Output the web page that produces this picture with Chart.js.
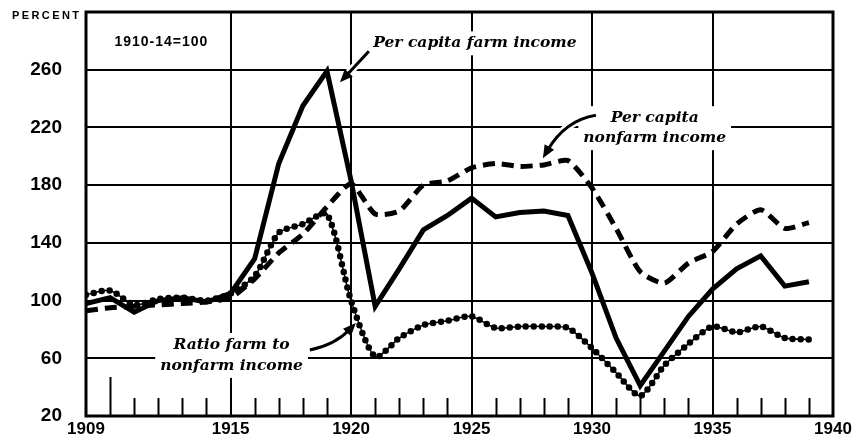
<!DOCTYPE html>
<html>
<head>
<meta charset="utf-8">
<script src="https://cdn.jsdelivr.net/npm/chart.js@4/dist/chart.umd.min.js"></script>
<style>
  body { margin: 0; background: #fff; }
  canvas { display: block; }
</style>
</head>
<body>
<canvas id="income-chart" width="857" height="436"></canvas>
<script>
// Index numbers, 1910-14 = 100
var years = [1909, 1910, 1911, 1912, 1913, 1914, 1915, 1916, 1917, 1918, 1919,
             1920, 1921, 1922, 1923, 1924, 1925, 1926, 1927, 1928, 1929,
             1930, 1931, 1932, 1933, 1934, 1935, 1936, 1937, 1938, 1939];
var farmIncome = [98, 102, 92, 100, 102, 99, 105, 129, 195, 235, 259,
                  183, 96, 122, 149, 159, 171, 158, 161, 162, 159,
                  119, 74, 41, 65, 89, 108, 122, 131, 110, 113];
var nonfarmIncome = [93, 95, 96, 97, 98, 99, 102, 115, 133, 146, 165,
                     181, 160, 162, 180, 183, 192, 195, 193, 194, 197,
                     178, 150, 120, 112, 126, 134, 153, 163, 150, 154];
var ratioFarmNonfarm = [104, 107, 97, 101, 102, 100, 105, 117, 147, 153, 160,
                        100, 61, 74, 83, 86, 89, 81, 82, 82, 81,
                        67, 50, 34, 55, 70, 82, 78, 82, 74, 73];

var tickYears = [1909, 1910, 1911, 1912, 1913, 1914, 1915, 1916, 1917, 1918, 1919,
                 1920, 1921, 1922, 1923, 1924, 1925, 1926, 1927, 1928, 1929,
                 1930, 1931, 1932, 1933, 1934, 1935, 1936, 1937, 1938, 1939, 1940];
var yearLabels = [1909, 1915, 1920, 1925, 1930, 1935, 1940];
var gridYears = [1915, 1920, 1925, 1930, 1935];
var yTicks = [20, 60, 100, 140, 180, 220, 260, 300];

function points(values) {
  return years.map(function(yr, i) { return {x: yr, y: values[i]}; });
}

var labelFont = 'italic bold 15.5px "DejaVu Serif"';

// callouts, placed in data units
var notes = [
  {lines: ['1910-14=100'], at: [1912.13, 279], font: 'bold 14px "Liberation Sans"', spacing: '1px', lh: 0},
  {lines: ['Per capita farm income'], at: [1925.14, 278.3], font: labelFont, lh: 0},
  {lines: ['Per capita', 'nonfarm income'], at: [1932.6, 219.5], font: labelFont, lh: 20},
  {lines: ['Ratio farm to', 'nonfarm income'], at: [1915.04, 62], font: labelFont, lh: 21}
];
var arrows = [
  {from: [1920.74, 272.8], to: [1919.54, 251.3]},
  {from: [1930.16, 228.5], ctrl: [1928.88, 225.0], to: [1927.96, 198.7]},
  {from: [1918.29, 65.7], ctrl: [1919.33, 69.2], to: [1920.2, 84.4]}
];

function drawArrow(ctx, a, xs, ys) {
  var p0 = [xs.getPixelForValue(a.from[0]), ys.getPixelForValue(a.from[1])];
  var p1 = [xs.getPixelForValue(a.to[0]), ys.getPixelForValue(a.to[1])];
  var c = a.ctrl ? [xs.getPixelForValue(a.ctrl[0]), ys.getPixelForValue(a.ctrl[1])] : p0;
  var ang = Math.atan2(p1[1] - c[1], p1[0] - c[0]);
  var back = [p1[0] - Math.cos(ang) * 9, p1[1] - Math.sin(ang) * 9];
  [['#fff', 8], ['#000', 3]].forEach(function(s) {
    ctx.strokeStyle = s[0];
    ctx.lineWidth = s[1];
    ctx.beginPath();
    ctx.moveTo(p0[0], p0[1]);
    if (a.ctrl) ctx.quadraticCurveTo(c[0], c[1], back[0], back[1]);
    else ctx.lineTo(back[0], back[1]);
    ctx.stroke();
  });
  ctx.fillStyle = '#000';
  ctx.beginPath();
  ctx.moveTo(p1[0], p1[1]);
  ctx.lineTo(p1[0] - Math.cos(ang - 0.4) * 14, p1[1] - Math.sin(ang - 0.4) * 14);
  ctx.lineTo(p1[0] - Math.cos(ang + 0.4) * 14, p1[1] - Math.sin(ang + 0.4) * 14);
  ctx.closePath();
  ctx.fill();
}

var decorations = {
  id: 'decorations',
  beforeDatasetsDraw: function(chart) {
    var ctx = chart.ctx, xs = chart.scales.x, ys = chart.scales.y, area = chart.chartArea;
    ctx.save();
    // short year ticks along the base
    ctx.strokeStyle = '#000';
    ctx.lineWidth = 2;
    tickYears.forEach(function(yr) {
      if (yr === 1909 || yr === 1940 || gridYears.indexOf(yr) >= 0) return;
      var x = Math.round(xs.getPixelForValue(yr)) + 0.5;
      var len = yr === 1910 ? 39 : 18;
      ctx.beginPath();
      ctx.moveTo(x, area.bottom);
      ctx.lineTo(x, area.bottom - len);
      ctx.stroke();
    });
    // labels on white boxes
    notes.forEach(function(n) {
      ctx.font = n.font;
      ctx.letterSpacing = n.spacing || '0px';
      var cx = xs.getPixelForValue(n.at[0]);
      var cy = ys.getPixelForValue(n.at[1]);
      var w = Math.max.apply(null, n.lines.map(function(t) { return ctx.measureText(t).width; }));
      var h = n.lh * (n.lines.length - 1) + 18;
      ctx.fillStyle = '#fff';
      ctx.fillRect(cx - w / 2 - 5, cy - h / 2 - 3, w + 10, h + 6);
      ctx.fillStyle = '#000';
      ctx.textAlign = 'center';
      ctx.textBaseline = 'middle';
      n.lines.forEach(function(t, i) {
        ctx.fillText(t, cx, cy - n.lh * (n.lines.length - 1) / 2 + i * n.lh);
      });
    });
    ctx.letterSpacing = '0px';
    arrows.forEach(function(a) { drawArrow(ctx, a, xs, ys); });
    ctx.restore();
  },
  afterDatasetsDraw: function(chart) {
    var ctx = chart.ctx, area = chart.chartArea;
    ctx.save();
    ctx.strokeStyle = '#000';
    ctx.lineWidth = 3;
    ctx.strokeRect(area.left, area.top, area.right - area.left, area.bottom - area.top);
    ctx.font = 'bold 11px "Liberation Sans"';
    ctx.letterSpacing = '2.4px';
    ctx.fillStyle = '#000';
    ctx.textBaseline = 'middle';
    ctx.textAlign = 'left';
    ctx.fillText('PERCENT', 12, area.top + 4);
    ctx.restore();
  }
};

var ctx = document.getElementById('income-chart').getContext('2d');
var incomeChart = new Chart(ctx, {
  type: 'line',
  data: {
    datasets: [{
      label: 'Per capita farm income',
      data: points(farmIncome),
      borderColor: '#000',
      borderWidth: 5,
      pointRadius: 0,
      tension: 0
    }, {
      label: 'Per capita nonfarm income',
      data: points(nonfarmIncome),
      borderColor: '#000',
      borderWidth: 5,
      borderDash: [12, 7],
      pointRadius: 0,
      tension: 0.2
    }, {
      label: 'Ratio farm to nonfarm income',
      data: points(ratioFarmNonfarm),
      borderColor: '#000',
      borderWidth: 1.5,
      pointRadius: 0,
      tension: 0.25
    }, {
      label: 'Ratio farm to nonfarm income (beads)',
      data: points(ratioFarmNonfarm),
      borderColor: '#000',
      borderWidth: 6.5,
      borderDash: [0, 8],
      borderCapStyle: 'round',
      pointRadius: 0,
      tension: 0.25
    }]
  },
  options: {
    responsive: false,
    animation: false,
    devicePixelRatio: 1,
    layout: {padding: {top: 12, right: 24, left: 0, bottom: 0}},
    plugins: {legend: {display: false}, tooltip: {enabled: false}},
    scales: {
      x: {
        type: 'linear',
        min: 1909,
        max: 1940,
        afterBuildTicks: function(s) { s.ticks = tickYears.map(function(v) { return {value: v}; }); },
        afterFit: function(s) {
          s.height = 20;
          s.paddingLeft = 0;
          s.paddingRight = 0;
        },
        border: {display: false},
        grid: {
          drawTicks: false,
          lineWidth: 2,
          color: function(c) {
            return c.tick && gridYears.indexOf(c.tick.value) >= 0 ? '#000' : 'rgba(0,0,0,0)';
          }
        },
        ticks: {
          autoSkip: false,
          maxRotation: 0,
          padding: 3,
          color: '#000',
          font: {family: '"Liberation Sans"', weight: 'bold', size: 17},
          callback: function(v) { return yearLabels.indexOf(v) >= 0 ? String(v) : ''; }
        }
      },
      y: {
        min: 20,
        max: 300,
        afterBuildTicks: function(s) { s.ticks = yTicks.map(function(v) { return {value: v}; }); },
        afterFit: function(s) {
          s.width = 86;
          s.paddingTop = 0;
          s.paddingBottom = 0;
        },
        border: {display: false},
        grid: {
          drawTicks: false,
          lineWidth: 2,
          color: function(c) {
            return c.tick && (c.tick.value === 20 || c.tick.value === 300) ? 'rgba(0,0,0,0)' : '#000';
          }
        },
        ticks: {
          padding: 24,
          color: '#000',
          font: {family: '"Liberation Sans"', weight: 'bold', size: 19},
          callback: function(v) { return v === 300 ? '' : String(v); }
        }
      }
    }
  },
  plugins: [decorations]
});
</script>
</body>
</html>
